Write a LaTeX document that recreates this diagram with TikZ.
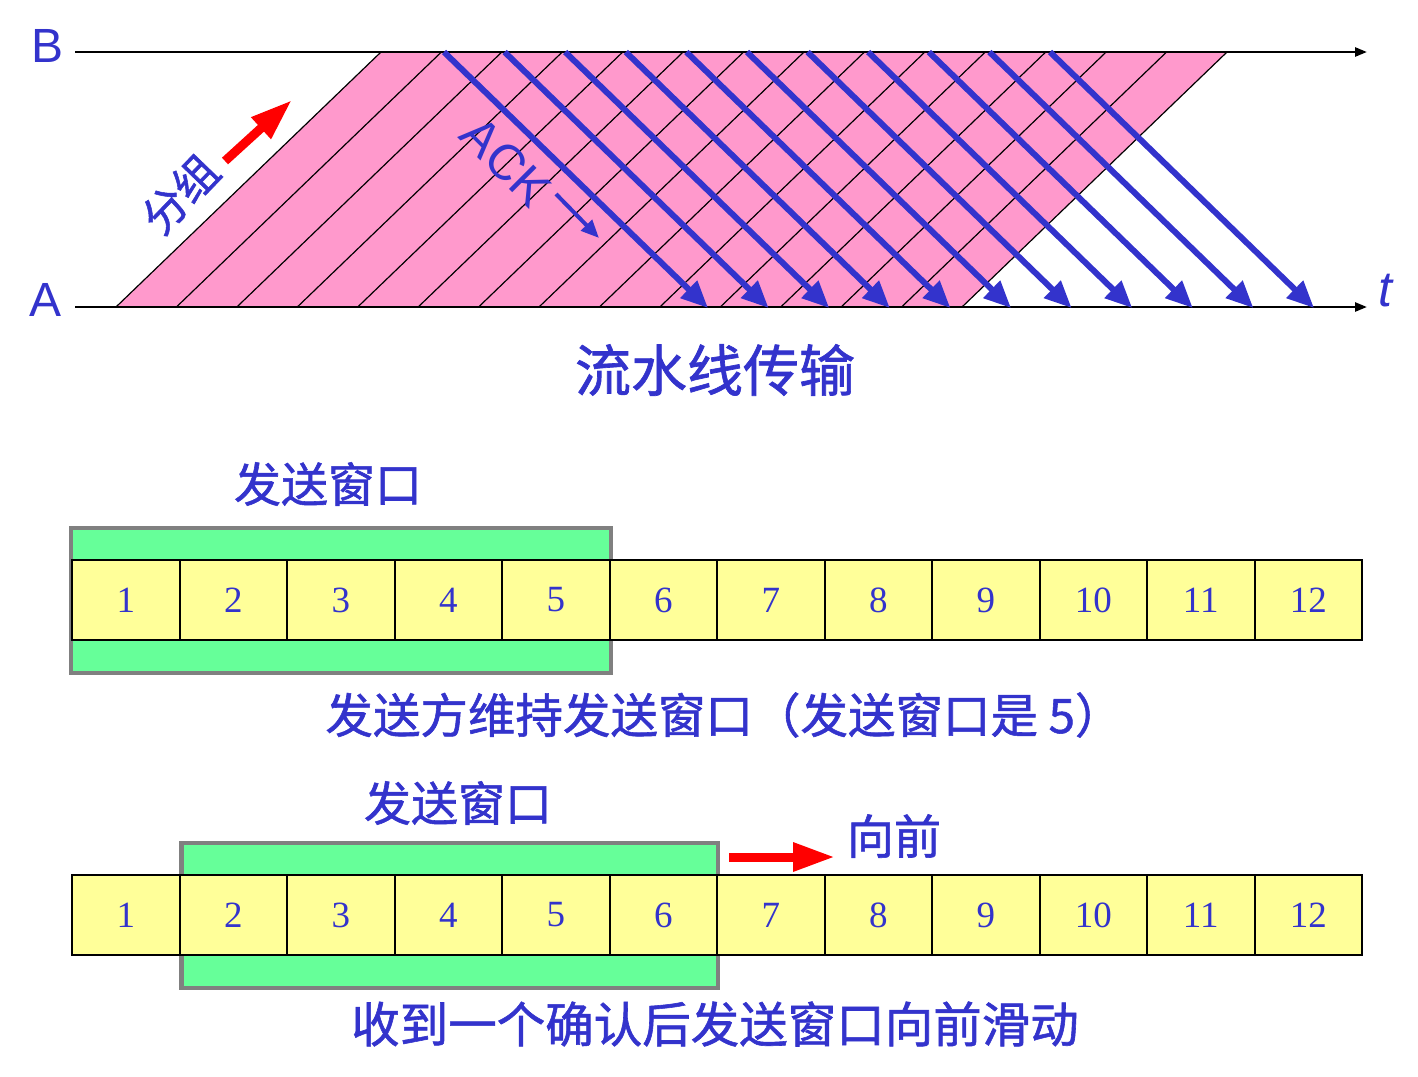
\documentclass[tikz,border=0pt]{standalone}
\usepackage{fontspec}
\setmainfont{Liberation Serif}
\newfontfamily\cjk[FakeBold=1.2]{Noto Sans CJK SC}
\newfontfamily\arial{Liberation Sans}
\usetikzlibrary{arrows.meta}
\definecolor{txtblue}{HTML}{3333CC}
\definecolor{pktpink}{HTML}{FF99CC}
\definecolor{wingreen}{HTML}{66FF99}
\definecolor{cellyellow}{HTML}{FFFF99}
\definecolor{wingray}{HTML}{808080}
\tikzset{
  axis/.style={line width=2.5pt,-{Triangle[length=12pt,width=9pt]}},
  pktline/.style={line width=1.2pt},
  ack/.style={draw=txtblue,line width=6pt,-{Triangle[length=27pt,width=23pt]}},
  push/.style={draw=red,line width=9pt,-{Triangle[length=42pt,width=27pt]}},
  cell/.style={draw,line width=2pt,fill=cellyellow,minimum width=107.5pt,minimum height=80pt,inner sep=0pt,text=txtblue,font=\fontsize{37}{37}\selectfont},
  window/.style={draw=wingray,line width=4.5pt,fill=wingreen},
  lbl/.style={text=txtblue,inner sep=0pt,font=\cjk\fontsize{47}{47}\selectfont},
  latin/.style={text=txtblue,inner sep=0pt,font=\arial\fontsize{48}{48}\selectfont}
}
\begin{document}
\begin{tikzpicture}[x=1pt,y=-1pt]
    \useasboundingbox (0,0) rectangle (1418,1076);
    \fill[pktpink] (116,307) -- (381,52) -- (1227,52) -- (962,307) -- cycle;
    \foreach \k in {0,...,14}{
      \coordinate (pa\k) at ({116+60.43*\k},307);
      \coordinate (pb\k) at ({381+60.43*\k},52);
      \draw[pktline] (pa\k) -- (pb\k);
    }
    \coordinate (B0) at (75,52);
    \coordinate (B1) at (1367,52);
    \coordinate (A0) at (75,307);
    \coordinate (A1) at (1367,307);
    \draw[axis] (B0) -- (B1);
    \draw[axis] (A0) -- (A1);
    \foreach \j in {0,...,10}{
      \coordinate (ab\j) at ({444+60.6*\j},52);
      \coordinate (aa\j) at ({708+60.6*\j},308);
      \draw[ack] (ab\j) -- (aa\j);
    }
    \node[latin] (lblB) at (48,46) {B};
    \node[latin] (lblA) at (46,300) {A};
    \node[latin,font=\arial\itshape\fontsize{50}{50}\selectfont] (lblt) at (1385,291) {t};
    \node[lbl,font=\cjk\fontsize{44}{44}\selectfont,rotate=46] (pkt) at (180,194) {分组};
    \coordinate (g0) at (225,161);
    \coordinate (g1) at (292,100);
    \draw[push] (g0) -- (g1);
    \node[latin,font=\arial\fontsize{50}{50}\selectfont,rotate=-45] (ackl) at (506,162) {ACK};
    \coordinate (k0) at (556,194);
    \coordinate (k1) at (599,238);
    \draw[ack,line width=4pt,-{Triangle[length=18pt,width=15pt]}] (k0) -- (k1);
    \node[lbl,font=\cjk\fontsize{56}{56}\selectfont] (title) at (715,370) {流水线传输};
    \node[lbl] (w1) at (328,484) {发送窗口};
    \draw[window] (71,528) rectangle (611,673);
    \foreach \i in {1,...,12}
      \node[cell] (r1c\i) at ({72+107.5*(\i-0.5)},600) {\i};
    \node[lbl,font=\cjk\fontsize{47.5}{47.5}\selectfont] (cap1) at (724,715) {发送方维持发送窗口（发送窗口是 5）};
    \node[lbl] (w2) at (458,803) {发送窗口};
    \node[lbl] (fwd) at (894,836) {向前};
    \coordinate (f0) at (729,857);
    \coordinate (f1) at (835,857);
    \draw[push] (f0) -- (f1);
    \draw[window] (181.5,843) rectangle (718,988);
    \foreach \i in {1,...,12}
      \node[cell] (r2c\i) at ({72+107.5*(\i-0.5)},915) {\i};
    \node[lbl,font=\cjk\fontsize{48.5}{48.5}\selectfont] (cap2) at (715,1024) {收到一个确认后发送窗口向前滑动};
\end{tikzpicture}
\end{document}
